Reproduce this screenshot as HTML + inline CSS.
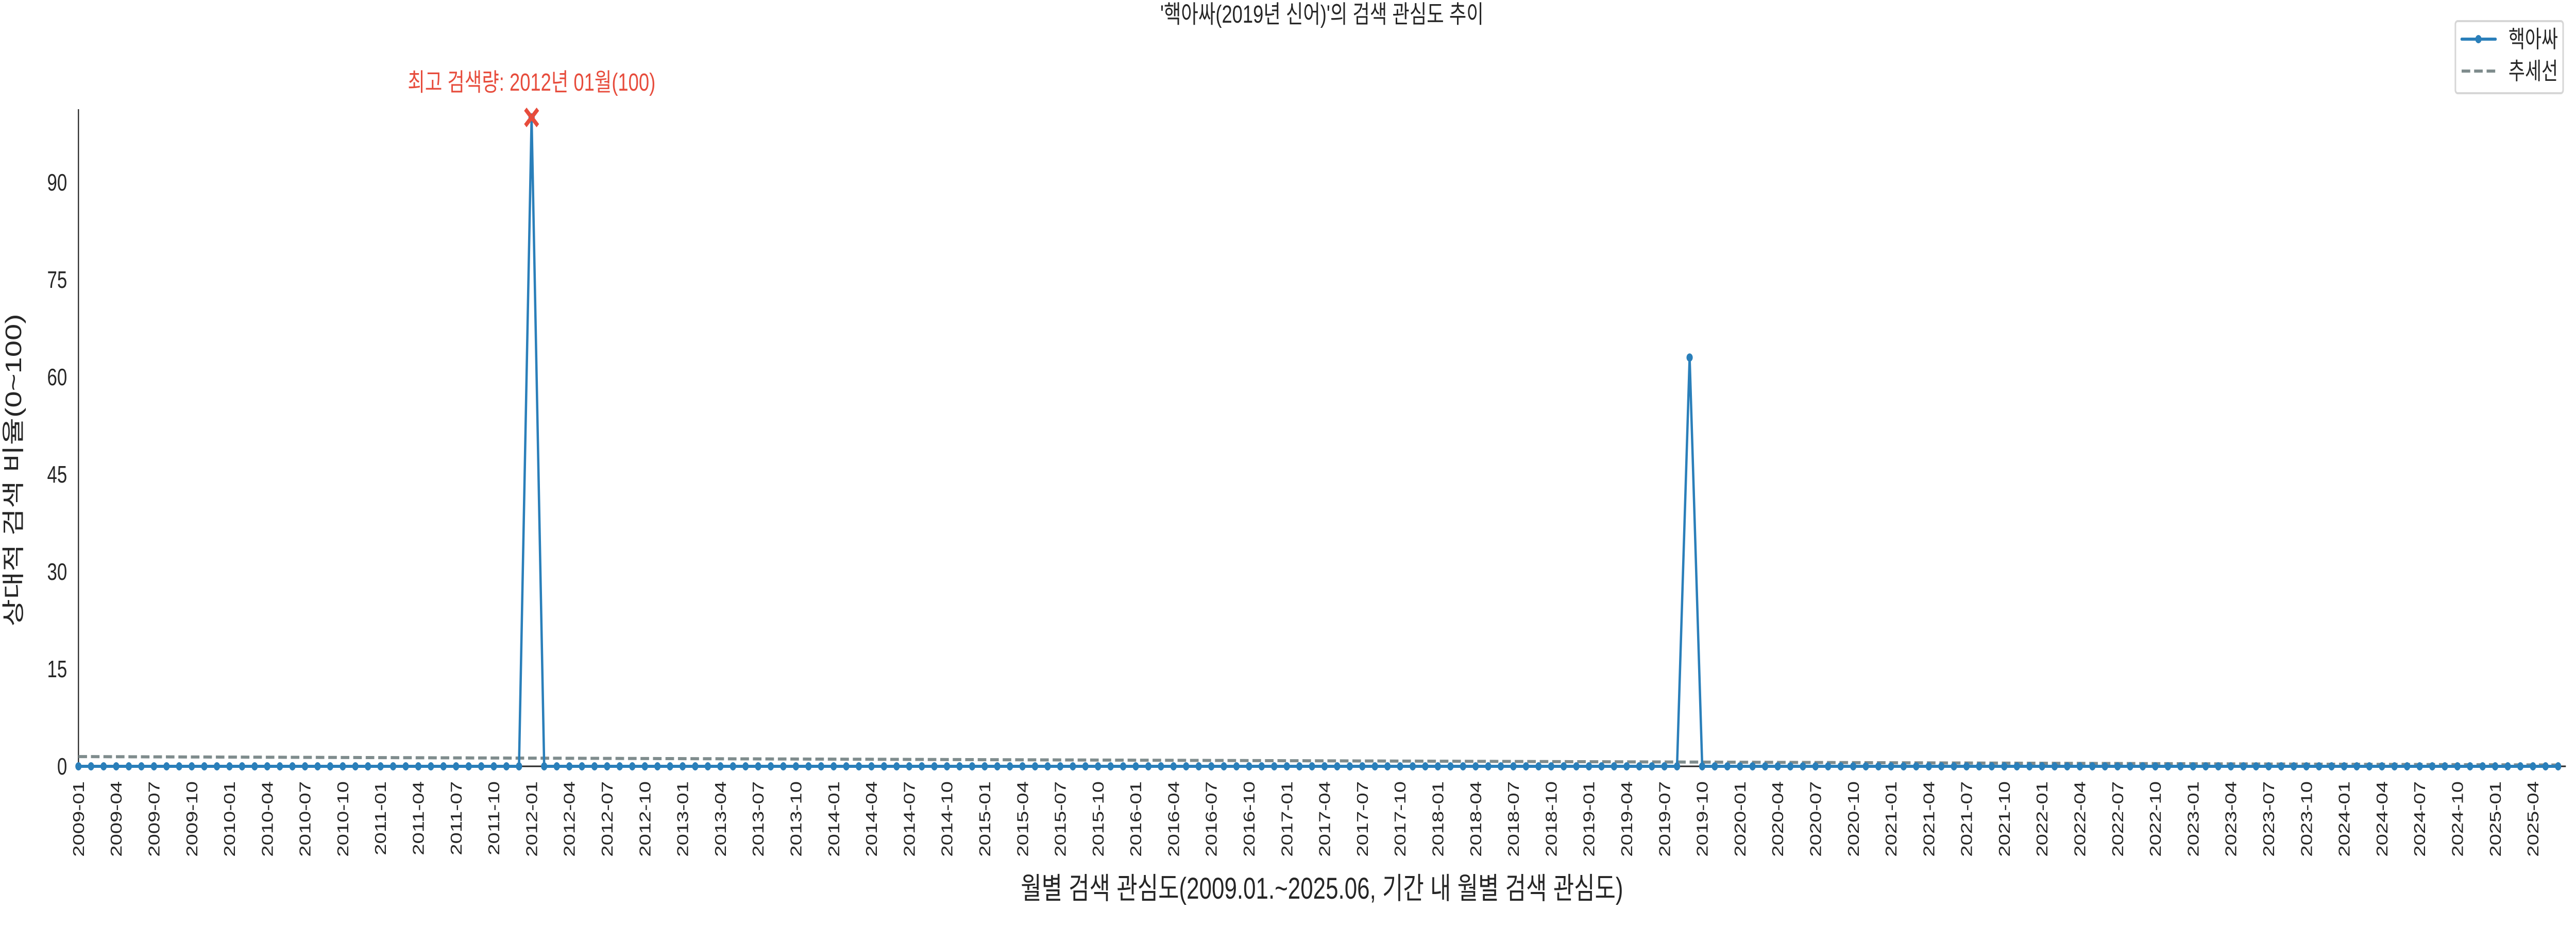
<!DOCTYPE html>
<html><head><meta charset="utf-8"><style>
html,body{margin:0;padding:0;background:#fff;width:100%;height:100%;overflow:hidden}
svg{display:block;width:100vw;height:100vh}
text{font-family:"Liberation Sans","Noto Sans CJK KR",sans-serif;fill:#262626}
</style></head><body>
<svg id="chart" viewBox="0 0 6600 1800" preserveAspectRatio="none" xmlns="http://www.w3.org/2000/svg">
<text x="3387" y="44" font-size="48" text-anchor="middle">'핵아싸(2019년 신어)'의 검색 관심도 추이</text>
<g id="plot"></g>
</svg>
<script>
const startYear = 2009, startMonth = 1;
const monthCount = 198;
const spikeMonths = ["2012-01", "2019-09"];
const spikeValues = [100, 63];
const trendValues = [1.5, 0.2];
const yTicks = [0, 15, 30, 45, 60, 75, 90];
const annotationText = "최고 검색량: 2012년 01월(100)";

const NS = "http://www.w3.org/2000/svg";
const plot = document.getElementById("plot");
const X0 = 201, PX_PER_MONTH = 32.25, Y0 = 1488, PX_PER_UNIT = 12.6;
const xs = i => X0 + i * PX_PER_MONTH;
const ys = v => Y0 - v * PX_PER_UNIT;
function mk(tag, attrs) { const e = document.createElementNS(NS, tag); for (const k in attrs) e.setAttribute(k, attrs[k]); plot.appendChild(e); return e; }
function label(i) { const m = startMonth - 1 + i; const y = startYear + Math.floor(m / 12); const mm = (m % 12) + 1; return y + "-" + String(mm).padStart(2, "0"); }

const values = [];
for (let i = 0; i < monthCount; i++) { const k = spikeMonths.indexOf(label(i)); values.push(k >= 0 ? spikeValues[k] : 0); }

let ax = mk("line", {x1: X0, y1: 212, x2: X0, y2: Y0, stroke: "#262626", "stroke-width": 3});


let bx = mk("line", {x1: X0, y1: Y0, x2: 6574, y2: Y0, stroke: "#262626", "stroke-width": 3});



yTicks.forEach(v => {
  const t = mk("text", {x: 172, y: ys(v) + 16, "font-size": 46, "text-anchor": "end"});
  t.textContent = v;
  
  
});
for (let i = 0; i < monthCount; i += 3) {
  const x = xs(i);
  const t = mk("text", {x: 0, y: 0, "font-size": 40, "text-anchor": "end", transform: `translate(${x + 14},1517) rotate(-90)`});
  t.textContent = label(i);
  
  
}

const tr = mk("line", {x1: xs(0), y1: ys(trendValues[0]), x2: xs(monthCount - 1), y2: ys(trendValues[1]), stroke: "#7f8c8d", "stroke-width": 6, "stroke-dasharray": "22 10"});



const pl = mk("polyline", {points: values.map((v, i) => xs(i) + "," + ys(v)).join(" "), fill: "none", stroke: "#2a7fba", "stroke-width": 6, "stroke-linejoin": "round"});


values.forEach((v, i) => {
  const c = mk("circle", {cx: xs(i), cy: ys(v), r: 8, fill: "#2a7fba"});
  
  
});

let mi = 0; values.forEach((v, i) => { if (v > values[mi]) mi = i; });
const mx = xs(mi), my = ys(values[mi]);
const xm = mk("path", {d: `M${mx-16},${my-16}L${mx+16},${my+16}M${mx-16},${my+16}L${mx+16},${my-16}`, stroke: "#e74c3c", "stroke-width": 9});


const at = mk("text", {x: mx, y: 176, "font-size": 48, "text-anchor": "middle", style: "fill:#e74c3c"});
at.textContent = annotationText;



const xt = mk("text", {x: 3387, y: 1745, "font-size": 58, "text-anchor": "middle"});
xt.textContent = "월별 검색 관심도(2009.01.~2025.06, 기간 내 월별 검색 관심도)";


const yt = mk("text", {x: 0, y: 0, "font-size": 58, "text-anchor": "middle", transform: "translate(54,913) rotate(-90)"});
yt.textContent = "상대적 검색 비율(0~100)";



const lg = mk("rect", {x: 6291, y: 41, width: 276, height: 140, rx: 6, fill: "#fff", stroke: "#d6d6d6", "stroke-width": 4});


const l1 = mk("line", {x1: 6307, y1: 76, x2: 6394, y2: 76, stroke: "#2a7fba", "stroke-width": 6, "stroke-linecap": "round"});


const l1c = mk("circle", {cx: 6350, cy: 76, r: 8, fill: "#2a7fba"});


const l1t = mk("text", {x: 6427, y: 92, "font-size": 46});
l1t.textContent = "핵아싸";


const l2 = mk("line", {x1: 6307, y1: 138, x2: 6394, y2: 138, stroke: "#7f8c8d", "stroke-width": 6, "stroke-dasharray": "22 10"});


const l2t = mk("text", {x: 6427, y: 154, "font-size": 46});
l2t.textContent = "추세선";


</script>
</body></html>
